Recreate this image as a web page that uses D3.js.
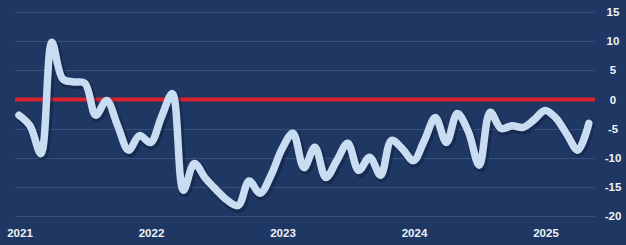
<!DOCTYPE html>
<html>
<head>
<meta charset="utf-8">
<script src="https://cdn.jsdelivr.net/npm/d3@7"></script>
<style>
  body { margin: 0; background: #1f3763; }
  svg { display: block; }
</style>
</head>
<body>
<script>
// canvas size
var w = 626;
var h = 245;

// monthly index, Jan 2021 .. May 2025
var values = [
  -2.7, -4.5, -9.3, 9.8, 3.5, 3.0, 2.8, -2.7, -0.2, -4.5, -8.7, -6.2,
  -7.4, -3.0, 1.0, -15.6, -11.0, -13.5, -15.5, -17.3, -18.2, -14.0, -16.1, -13.0,
  -8.5, -5.8, -11.7, -8.2, -13.4, -10.5, -7.5, -12.2, -9.9, -13.0, -7.0, -8.5,
  -10.5, -7.0, -3.1, -7.4, -2.4, -5.5, -11.3, -2.2, -5.0, -4.5, -4.8, -3.5,
  -1.9, -3.2, -6.0, -8.7, -4.1
];
var yearLabels = ["2021", "2022", "2023", "2024", "2025"];
var yTicks = [15, 10, 5, 0, -5, -10, -15, -20];

var svg = d3.select("body")
  .append("svg")
  .attr("width", w)
  .attr("height", h);

svg.append("rect")
  .attr("width", w)
  .attr("height", h)
  .attr("fill", "#1f3763");

// x: months since Jan 2021
var x = d3.scaleLinear()
  .domain([0, 12])
  .range([19, 150.5]);

var y = d3.scaleLinear()
  .domain([-20, 15])
  .range([216, 12]);

// gridlines
svg.selectAll("line.grid")
  .data(yTicks)
  .enter()
  .append("line")
  .attr("class", "grid")
  .attr("x1", 15)
  .attr("x2", 595)
  .attr("y1", function(d) { return Math.round(y(d)) + 0.5; })
  .attr("y2", function(d) { return Math.round(y(d)) + 0.5; })
  .attr("stroke", "#37507e")
  .attr("stroke-width", 1);

// y labels on the right
svg.selectAll("text.ylab")
  .data(yTicks)
  .enter()
  .append("text")
  .attr("class", "ylab")
  .text(function(d) { return d; })
  .attr("x", 613)
  .attr("y", function(d) { return y(d); })
  .attr("dy", "0.36em")
  .attr("text-anchor", "middle")
  .attr("font-family", "Liberation Sans, Arial, sans-serif")
  .attr("font-weight", "bold")
  .attr("font-size", "11.5px")
  .attr("fill", "#eef2f8");

// year labels
svg.selectAll("text.xlab")
  .data(yearLabels)
  .enter()
  .append("text")
  .attr("class", "xlab")
  .text(function(d) { return d; })
  .attr("x", function(d, i) { return x(i * 12) + 1; })
  .attr("y", 233)
  .attr("dy", "0.36em")
  .attr("text-anchor", "middle")
  .attr("font-family", "Liberation Sans, Arial, sans-serif")
  .attr("font-weight", "bold")
  .attr("font-size", "11.5px")
  .attr("fill", "#eef2f8");

// zero line
svg.append("line")
  .attr("x1", 15)
  .attr("x2", 595)
  .attr("y1", y(0))
  .attr("y2", y(0))
  .attr("stroke", "#d8222f")
  .attr("stroke-width", 4);

var line = d3.line()
  .x(function(d, i) { return x(i); })
  .y(function(d) { return y(d); })
  .curve(d3.curveCatmullRom.alpha(0.5));

// shadow under the line
svg.append("path")
  .datum(values)
  .attr("d", line)
  .attr("fill", "none")
  .attr("stroke", "#0e1d3a")
  .attr("stroke-opacity", 0.45)
  .attr("stroke-width", 10)
  .attr("stroke-linecap", "round")
  .attr("stroke-linejoin", "round")
  .attr("transform", "translate(1.5,2)");

svg.append("path")
  .datum(values)
  .attr("d", line)
  .attr("fill", "none")
  .attr("stroke", "#c8ddf1")
  .attr("stroke-width", 7.5)
  .attr("stroke-linecap", "round")
  .attr("stroke-linejoin", "round");
</script>
</body>
</html>
